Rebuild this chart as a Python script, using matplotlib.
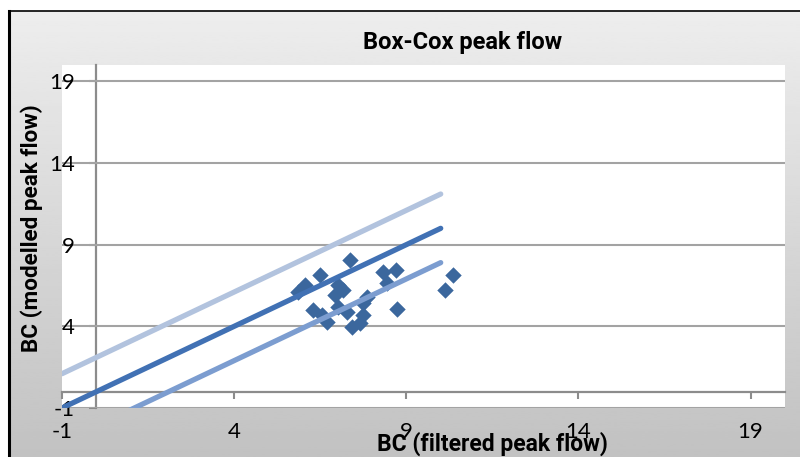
import numpy as np
import matplotlib
matplotlib.use('Agg')
import matplotlib.pyplot as plt
from matplotlib.lines import Line2D

plt.rcParams['font.family'] = ['Lato', 'DejaVu Sans']
bold_font = ['Roboto', 'DejaVu Sans']

# scatter points (filtered vs modelled, Box-Cox transformed)
bc_filtered = [5.86, 6.06, 6.50, 7.37, 7.02, 7.17, 6.94, 6.30, 6.56, 6.70, 7.02, 7.28,
               7.43, 7.66, 7.75, 7.75, 8.33, 8.71, 8.45, 7.87, 8.74, 10.13, 10.37]
bc_modelled = [6.09, 6.52, 7.13, 8.05, 6.52, 6.22, 5.91, 4.99, 4.69, 4.26, 5.18, 4.87,
               3.95, 4.20, 4.69, 5.42, 7.32, 7.44, 6.65, 5.79, 5.06, 6.22, 7.13]

# 1:1 line and bounds
line_x = [-1, 10.0]
mid_y = [-1, 10.0]
upper_y = [1.1, 12.1]
lower_y = [-3.1, 7.9]

ticks = [-1, 4, 9, 14, 19]
tick_labels = ['-1', '4', '9', '14', '19']

fig = plt.figure(figsize=(8, 4.57), dpi=100)
fig.patch.set_facecolor('white')

# grey gradient chart area
bg = fig.add_axes([9/800, 0, 1 - 9/800, (457 - 11)/457])
grad = np.linspace(0.93, 0.76, 200).reshape(-1, 1)
bg.imshow(grad, aspect='auto', cmap='gray', vmin=0, vmax=1, extent=[0, 1, 0, 1], origin='upper')
bg.axis('off')
fig.add_artist(Line2D([9/800, 9/800], [0, 1 - 11/457], color='black', lw=2.2))
fig.add_artist(Line2D([9/800, 1], [1 - 11/457, 1 - 11/457], color='black', lw=1.2))

ax = fig.add_axes([62/800, 49/457, 723/800, 343/457])
ax.set_facecolor('white')
ax.set_xlim(-1, 20)
ax.set_ylim(-1, 20)
for s in ax.spines.values():
    s.set_visible(False)

ax.set_xticks(ticks)
ax.set_xticklabels(tick_labels)
ax.set_yticks(ticks)
ax.set_yticklabels(tick_labels)
ax.tick_params(axis='x', length=0, pad=10, labelsize=16)
ax.tick_params(axis='y', length=0, pad=-9, labelsize=16)
ax.yaxis.grid(True, color='#a3a3a3', lw=1.5)
ax.xaxis.grid(False)

# axes crossing at zero
sx = ax.secondary_xaxis((0 - (-1)) / 21)
sx.set_xticks(ticks)
sx.tick_params(direction='out', length=5, width=1.5, color='#8c8c8c', labelbottom=False)
sx.spines['bottom'].set_color('#8c8c8c')
sx.spines['bottom'].set_linewidth(1.6)
sy = ax.secondary_yaxis((0 - (-1)) / 21)
sy.set_yticks(ticks)
sy.tick_params(direction='out', length=5, width=1.5, color='#8c8c8c', labelleft=False)
sy.spines['left'].set_color('#8c8c8c')
sy.spines['left'].set_linewidth(1.6)

ax.scatter(bc_filtered, bc_modelled, marker='D', s=70, color='#3b679d', linewidths=0, zorder=3)
ax.plot(line_x, upper_y, color='#b2c3de', lw=3.8, solid_capstyle='round', zorder=4)
ax.plot(line_x, mid_y, color='#4171b4', lw=3.8, solid_capstyle='round', zorder=4)
ax.plot(line_x, lower_y, color='#7c9dd0', lw=3.8, solid_capstyle='round', zorder=4)

fig.text(463/800, 1 - 42/457, 'Box-Cox peak flow', ha='center', va='center',
         fontsize=17, fontweight='bold', family=bold_font)
fig.text(492/800, 1 - 444/457, 'BC (filtered peak flow)', ha='center', va='center',
         fontsize=16.5, fontweight='bold', family=bold_font)
fig.text(32/800, 1 - 228/457, 'BC (modelled peak flow)', ha='center', va='center',
         rotation=90, fontsize=16.2, fontweight='bold', family=bold_font)

fig.savefig('out.png', dpi=100)
